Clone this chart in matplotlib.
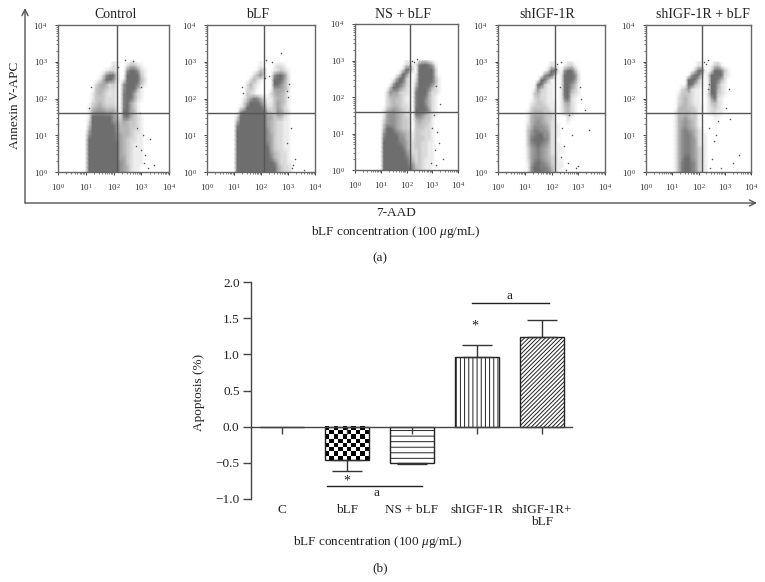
import matplotlib
matplotlib.use('Agg')
import matplotlib.pyplot as plt
import numpy as np
from matplotlib.colors import LinearSegmentedColormap
from matplotlib.ticker import LogLocator, NullFormatter

plt.rcParams['font.family'] = ['Liberation Serif', 'DejaVu Serif']
plt.rcParams['mathtext.fontset'] = 'custom'
plt.rcParams['mathtext.rm'] = 'Liberation Serif'
plt.rcParams['mathtext.it'] = 'Liberation Serif:italic'
plt.rcParams['hatch.linewidth'] = 0.7

W, H = 765, 582

panel_titles = ['Control', 'bLF', 'NS + bLF', 'shIGF-1R', 'shIGF-1R + bLF']
gate_x = [133, 133, 133, 133, 133]
gate_y = [40, 40, 40, 40, 40]

# dot density, 0 (none) to 9 (solid)
# columns: log10 7-AAD 1.0 to 3.375, rows: log10 Annexin 3.0 down to 0, both in 1/8 decade
density_x = [1.0 + 0.125 * k for k in range(20)]
density_y = [3.0 - 0.125 * k for k in range(25)]

control_density = [
    '00000000100001100000',
    '00000000210024421000',
    '00000012210069962100',
    '00000269920099993100',
    '00001499620199994200',
    '00024542310699973100',
    '00034432210699841000',
    '00134321210799521000',
    '00133322210799521000',
    '00234322210795310000',
    '01345433320795310000',
    '01566655530995410000',
    '01999988642785321000',
    '02999999653543321000',
    '03999999864443321000',
    '05999999964443221000',
    '16999999975443211000',
    '18999999975432211000',
    '19999999985432111000',
    '19999999985432111000',
    '19999999985432111000',
    '19999999985532111000',
    '19999999986532111000',
    '19999999986542110000',
    '19999999986542110000',
]
blf_density = [
    '00000000100000000000',
    '00000000100012210000',
    '00000001420012321000',
    '00000024620069962000',
    '00000242100099952000',
    '00002421000089642000',
    '00002320000055542000',
    '00003210000245431000',
    '00013576421134431000',
    '00025899641135431000',
    '00139999862235421000',
    '00699999984336532000',
    '02999999985534421000',
    '04999999985432211000',
    '07999999985432211000',
    '09999999986432211000',
    '09999999996532211000',
    '09999999996532211000',
    '09999999997532211000',
    '09999999998532211000',
    '09999999999643221000',
    '09999999999743221000',
    '09999999999974221100',
    '09999999999985322100',
    '09999999999985322100',
]
ns_density = [
    '00000000110012210000',
    '00000000221179975100',
    '00000002972099999300',
    '00000029720199999300',
    '00000499310299999410',
    '00004996310399997410',
    '00039964210599974210',
    '00265532210799952210',
    '00244432110799742100',
    '00234332110799642100',
    '00234432210799742100',
    '01456543220899962100',
    '01566543220776432100',
    '02566543320454331000',
    '03666543320343321000',
    '04887543320333221000',
    '06999765431332221000',
    '07999866431333221000',
    '08999976532332211000',
    '08999987532332211000',
    '09999998642232211000',
    '09999999753232211000',
    '09999999864232111000',
    '09999999976332111000',
    '09999999996432110000',
]
sh_density = [
    '00000000110001100000',
    '00000000210012310000',
    '00000002982069841000',
    '00000069830199972000',
    '00000994100199862000',
    '00008931100199641000',
    '00016321100199531000',
    '00034221100199321000',
    '00023221100178210000',
    '00123321110145210000',
    '00233332110134210000',
    '01344433210134210000',
    '01455543310002100000',
    '01456543210001000000',
    '02466654211000000000',
    '03577665211000000000',
    '03678866211000000000',
    '03789876210000000000',
    '03678765211000000000',
    '02567654211100000000',
    '02567654211000000000',
    '02567654321000000000',
    '01578765321100000000',
    '01688776421100000000',
    '01688877521000000000',
]
sh_blf_density = [
    '00000000110001100000',
    '00000000210013410000',
    '00000003891029973100',
    '00000069930299992100',
    '00000899410199742000',
    '00000894210199521000',
    '00023621100199421000',
    '00133321100299321000',
    '00234321100158210000',
    '00234321100134210000',
    '00344332110123210000',
    '01444433110122110000',
    '01445433100001100000',
    '01456543100000000000',
    '01456543100000000000',
    '01467654210000000000',
    '01467764211000000000',
    '01467765211000000000',
    '01467765211000000000',
    '01467765321000000000',
    '01467765321000000000',
    '01468865321000000000',
    '01478876321000000000',
    '01478876321000000000',
    '01478876321000000000',
]
panel_density = [control_density, blf_density, ns_density, sh_density, sh_blf_density]

# stray dots, log10 values
control_dots_x = [3.25, 3.45, 3.05, 3.15, 2.85, 3.3, 2.12, 2.15, 2.7, 3.0, 2.95, 3.1, 1.1, 1.2, 2.4, 3.0, 2.8]
control_dots_y = [0.1, 0.2, 1.0, 0.45, 1.2, 0.9, 3.0, 2.85, 3.02, 0.6, 1.6, 0.25, 1.75, 2.3, 3.05, 2.3, 0.7]
blf_dots_x = [2.75, 2.2, 2.1, 3.0, 3.2, 3.6, 3.25, 3.1, 2.95, 2.3, 1.3, 1.35, 2.15, 3.05, 2.95, 3.15, 2.4]
blf_dots_y = [3.25, 3.05, 2.8, 2.05, 0.2, 0.05, 0.35, 1.2, 0.8, 2.6, 2.3, 2.15, 2.55, 2.4, 2.2, 0.1, 3.0]
ns_dots_x = [2.2, 2.3, 2.4, 3.3, 3.4, 3.15, 3.2, 3.05, 3.25, 3.1, 2.95, 3.0, 3.15, 2.15]
ns_dots_y = [3.0, 2.95, 3.05, 1.8, 0.3, 2.3, 1.05, 1.5, 0.75, 0.55, 0.2, 1.15, 0.15, 2.85]
sh_dots_x = [2.2, 2.35, 2.15, 2.3, 3.25, 3.4, 3.0, 2.6, 2.75, 2.45, 2.9, 2.4, 2.75, 2.65, 3.05, 3.1, 2.35, 2.55]
sh_dots_y = [2.95, 2.98, 2.8, 2.3, 1.7, 1.15, 0.15, 0.25, 1.0, 0.7, 0.1, 1.2, 1.6, 1.55, 2.3, 2.0, 0.4, 0.05]
sh_blf_dots_x = [2.2, 2.27, 2.35, 2.4, 3.55, 3.3, 3.2, 2.65, 2.6, 2.85, 2.5, 2.4, 3.05, 2.75, 2.35, 2.45, 3.15]
sh_blf_dots_y = [3.0, 2.95, 3.05, 2.4, 0.45, 0.25, 1.45, 1.0, 0.85, 0.1, 0.35, 1.2, 1.75, 1.4, 2.25, 0.1, 2.25]
panel_dots_x = [control_dots_x, blf_dots_x, ns_dots_x, sh_dots_x, sh_blf_dots_x]
panel_dots_y = [control_dots_y, blf_dots_y, ns_dots_y, sh_dots_y, sh_blf_dots_y]

# bar chart
groups = ['C', 'bLF', 'NS + bLF', 'shIGF-1R', 'shIGF-1R+\nbLF']
apoptosis = [0, -0.47, -0.50, 0.96, 1.24]
apoptosis_err = [0, 0.14, 0.02, 0.17, 0.24]

cloud_cmap = LinearSegmentedColormap.from_list('cloud', ['#ffffff', '#6e6e6e'])


def add_axes_px(left, top, right, bottom):
    return plt.gcf().add_axes([left / W, 1 - bottom / H, (right - left) / W, (bottom - top) / H])


def label_px(fig, x, y, text, **kw):
    kw.setdefault('ha', 'center')
    kw.setdefault('va', 'center')
    kw.setdefault('color', '#222222')
    fig.text(x / W, 1 - y / H, text, **kw)


def draw_flow_panel(ax, i):
    grid = np.array([[int(c) for c in row] for row in panel_density[i]])
    ax.pcolormesh(10 ** np.array(density_x), 10 ** np.array(density_y), grid, cmap=cloud_cmap,
                  vmin=0, vmax=8, shading='gouraud', rasterized=True)
    ax.scatter(10 ** np.array(panel_dots_x[i]), 10 ** np.array(panel_dots_y[i]), s=1.2, color='#555555', lw=0)
    ax.axvline(gate_x[i], color='#555555', lw=1)
    ax.axhline(gate_y[i], color='#555555', lw=1)
    ax.set_xscale('log')
    ax.set_yscale('log')
    ax.set_xlim(1, 1e4)
    ax.set_ylim(1, 1e4)
    for axis in (ax.xaxis, ax.yaxis):
        axis.set_major_locator(LogLocator(base=10, numticks=6))
        axis.set_minor_locator(LogLocator(base=10, subs=np.arange(2, 10), numticks=6))
        axis.set_minor_formatter(NullFormatter())
    ax.tick_params(which='major', length=2.5, width=0.7, labelsize=6.5, pad=5, color='#444444', labelcolor='#333333')
    ax.tick_params(which='minor', length=1.5, width=0.5, color='#444444')
    for s in ax.spines.values():
        s.set_color('#666666')
        s.set_linewidth(1)


def main():
    fig = plt.figure(figsize=(W / 100, H / 100), dpi=100)

    panel_boxes = [(58, 25, 169, 172), (207, 25, 315, 172), (355, 24, 458, 170), (498, 25, 605, 172), (646, 25, 751, 172)]
    title_x = [116, 258, 403, 547, 703]
    for i, box in enumerate(panel_boxes):
        ax = add_axes_px(*box)
        draw_flow_panel(ax, i)
        label_px(fig, title_x[i], 14, panel_titles[i], fontsize=10)

    # L-shaped axes around the flow panels
    arrow = dict(arrowstyle='->', color='#555555', lw=1, mutation_scale=11, shrinkA=0, shrinkB=0)
    origin = (25 / W, 1 - 203 / H)
    fig.add_artist(plt.Annotation('', xy=(25 / W, 1 - 8 / H), xytext=origin, xycoords='figure fraction', textcoords='figure fraction', arrowprops=arrow))
    fig.add_artist(plt.Annotation('', xy=(757 / W, 1 - 203 / H), xytext=origin, xycoords='figure fraction', textcoords='figure fraction', arrowprops=arrow))
    label_px(fig, 15, 105, 'Annexin V-APC', rotation=90, fontsize=9.5)
    label_px(fig, 396, 213, '7-AAD', fontsize=9.5)
    label_px(fig, 396, 232, r'bLF concentration (100 $\mathit{\mu}$g/mL)', fontsize=9.5)
    label_px(fig, 380, 258, '(a)', fontsize=9.5)

    # bar chart
    ax = add_axes_px(250.7, 282.3, 572, 498.7)
    x = np.arange(len(groups))
    bars = ax.bar(x, apoptosis, width=0.67, facecolor='white', edgecolor='#222222', lw=1, zorder=2)
    bars[2].set_hatch('---')
    bars[3].set_hatch('||||')
    bars[4].set_hatch('////////')

    # checkerboard for the bLF bar, hatch has no such pattern
    b = bars[1]
    checker = np.indices((8, 10)).sum(axis=0) % 2
    ax.imshow(checker, cmap='gray', extent=(b.get_x(), b.get_x() + b.get_width(), b.get_y() + b.get_height(), b.get_y()),
              aspect='auto', interpolation='nearest', zorder=2.1)
    b.set_zorder(2.2)
    b.set_facecolor('none')

    lower = [e if v < 0 else 0 for v, e in zip(apoptosis[1:], apoptosis_err[1:])]
    upper = [e if v > 0 else 0 for v, e in zip(apoptosis[1:], apoptosis_err[1:])]
    ax.errorbar(x[1:], apoptosis[1:], yerr=[lower, upper], fmt='none', ecolor='#333333', elinewidth=1, capsize=11, capthick=1, zorder=3)

    ax.set_axisbelow(False)
    ax.set_xlim(-0.48, 4.46)
    ax.set_ylim(-1, 2)
    ax.set_yticks([-1, -0.5, 0, 0.5, 1, 1.5, 2], ['\u22121.0', '\u22120.5', '0.0', '0.5', '1.0', '1.5', '2.0'])
    ax.set_xticks(x, groups)
    ax.spines['top'].set_visible(False)
    ax.spines['right'].set_visible(False)
    ax.spines['bottom'].set_position(('data', 0))
    for s in ('left', 'bottom'):
        ax.spines[s].set_color('#444444')
        ax.spines[s].set_linewidth(1)
    ax.tick_params(axis='y', length=6, width=1, labelsize=9.5, pad=2, color='#444444', labelcolor='#222222')
    ax.tick_params(axis='x', length=5, width=1, labelsize=9.5, pad=51, color='#444444', labelcolor='#222222')
    for lbl in ax.get_xticklabels():
        lbl.set_linespacing(1.0)
        lbl.set_va('top')

    ax.plot([2.92, 4.1], [1.71, 1.71], color='#222222', lw=1)
    ax.plot([0.7, 2.16], [-0.83, -0.83], color='#222222', lw=1)
    ax.text(3.5, 1.81, 'a', ha='center', va='center', fontsize=9.5, color='#222222')
    ax.text(1.45, -0.92, 'a', ha='center', va='center', fontsize=9.5, color='#222222')
    ax.text(2.97, 1.4, '*', ha='center', va='center', fontsize=10, color='#222222')
    ax.text(1.0, -0.76, '*', ha='center', va='center', fontsize=10, color='#222222')

    label_px(fig, 199, 392, 'Apoptosis (%)', rotation=90, fontsize=9.5)
    label_px(fig, 378, 542, r'bLF concentration (100 $\mathit{\mu}$g/mL)', fontsize=9.5)
    label_px(fig, 380, 568, '(b)', fontsize=9.5)

    fig.savefig('out.png', dpi=100)


if __name__ == '__main__':
    main()
